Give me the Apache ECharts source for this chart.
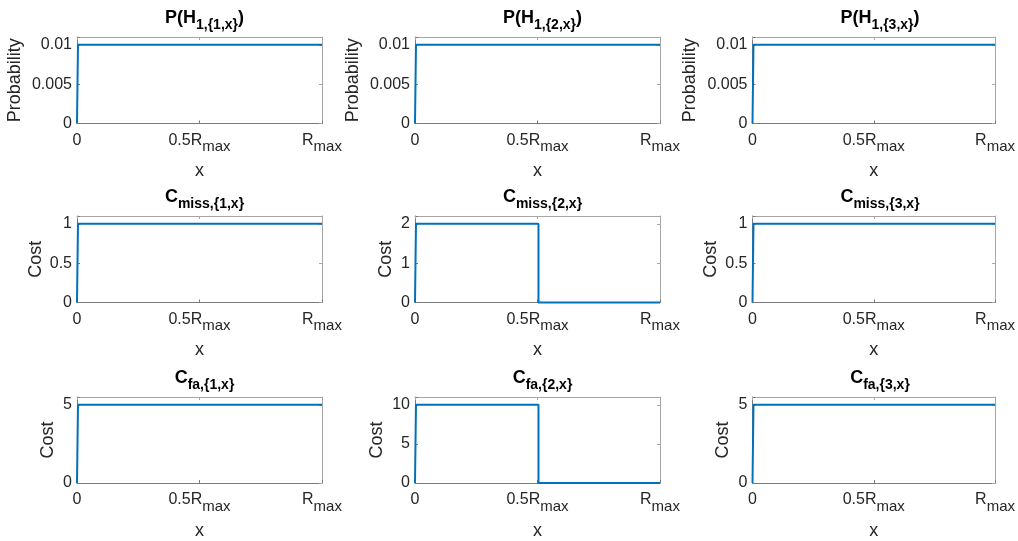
<!DOCTYPE html>
<html>
<head>
<meta charset="utf-8">
<script src="https://cdn.jsdelivr.net/npm/echarts@6/dist/echarts.min.js"></script>
<style>html,body{margin:0;padding:0;background:#fff}#c{width:1018px;height:541px}</style>
</head>
<body>
<div id="c"></div>
<script>
// ---- data ----
const xTicks = [0, 50, 100];
const xTickMain = ['0', '0.5R', 'R'];
const xTickSub = ['', 'max', 'max'];
const xRise = [0, 0.4, 100];
const xStep = [0, 0.4, 50.4, 50.4, 100];

const pH1_1 = [0, 0.01, 0.01];
const pH1_2 = [0, 0.01, 0.01, 0.01, 0.01];
const pH1_3 = [0, 0.01, 0.01];
const cMiss1 = [0, 1, 1];
const cMiss2 = [0, 2, 2, 0, 0];
const cMiss3 = [0, 1, 1];
const cFa1 = [0, 5, 5];
const cFa2 = [0, 10, 10, 0, 0];
const cFa3 = [0, 5, 5];

const titleMain = ['P(H', 'P(H', 'P(H', 'C', 'C', 'C', 'C', 'C', 'C'];
const titleSub = ['1,{1,x}', '1,{2,x}', '1,{3,x}', 'miss,{1,x}', 'miss,{2,x}', 'miss,{3,x}', 'fa,{1,x}', 'fa,{2,x}', 'fa,{3,x}'];
const titleTail = [')', ')', ')', '', '', '', '', '', ''];
const yNames = ['Probability', 'Probability', 'Probability', 'Cost', 'Cost', 'Cost', 'Cost', 'Cost', 'Cost'];
const yMax = [0.011, 0.011, 0.011, 1.1, 2.2, 1.1, 5.5, 11, 5.5];
const yInterval = [0.005, 0.005, 0.005, 0.5, 1, 0.5, 5, 5, 5];
const yTicks = [[0, 0.005, 0.01], [0, 0.005, 0.01], [0, 0.005, 0.01], [0, 0.5, 1], [0, 1, 2], [0, 0.5, 1], [0, 5], [0, 5, 10], [0, 5]];
const yTickLabels = [['0', '0.005', '0.01'], ['0', '0.005', '0.01'], ['0', '0.005', '0.01'], ['0', '0.5', '1'], ['0', '1', '2'], ['0', '0.5', '1'], ['0', '5'], ['0', '5', '10'], ['0', '5']];
const seriesX = [xRise, xStep, xRise, xRise, xStep, xRise, xRise, xStep, xRise];
const seriesY = [pH1_1, pH1_2, pH1_3, cMiss1, cMiss2, cMiss3, cFa1, cFa2, cFa3];

// ---- layout / style ----
const colLeft = [77, 415, 752.5];
const rowTop = [37, 216, 397];
const plotW = 245, plotH = 86.5;
const yNameGap = [53, 53, 53, 32, 20, 32, 20, 29, 20];
const FONT = 'Liberation Sans, Arial, sans-serif';
const TXT = '#262626';
const AX = '#7a7a7a';
const AX2 = '#a6a6a6';
const LINE = '#0072BD';

const grids = [], xAxes = [], yAxes = [], series = [], titles = [];
for (let i = 0; i < 9; i++) {
  const r = Math.floor(i / 3), c = i % 3;
  grids.push({left: colLeft[c], top: rowTop[r], width: plotW, height: plotH, show: false, containLabel: false});
  const xBase = {gridIndex: i, type: 'value', min: 0, max: 100, interval: 50, splitLine: {show: false}};
  xAxes.push(Object.assign({}, xBase, {
    position: 'bottom',
    axisLine: {show: true, onZero: false, lineStyle: {color: AX, width: 1}},
    axisTick: {show: true, inside: true, length: 3, lineStyle: {color: AX}},
    axisLabel: {
      show: true, margin: 9, color: TXT, fontFamily: FONT, fontSize: 15,
      showMinLabel: true, showMaxLabel: true,
      formatter: function (v) {
        const k = xTicks.indexOf(v);
        if (k < 0) return '';
        return '{b|' + xTickMain[k] + '}' + xTickSub[k];
      },
      rich: {b: {fontSize: 16, fontFamily: FONT, color: TXT, padding: [0, 0, 13, 0]}}
    },
    name: 'x', nameLocation: 'middle', nameGap: 39,
    nameTextStyle: {color: TXT, fontFamily: FONT, fontSize: 18}
  }));
  xAxes.push(Object.assign({}, xBase, {
    position: 'top',
    axisLine: {show: true, onZero: false, lineStyle: {color: AX2, width: 1}},
    axisTick: {show: true, inside: true, length: 3, lineStyle: {color: AX2}},
    axisLabel: {show: false}
  }));
  const tk = yTicks[i], tl = yTickLabels[i];
  const yBase = {gridIndex: i, type: 'value', min: 0, max: yMax[i], interval: yInterval[i], splitLine: {show: false}};
  yAxes.push(Object.assign({}, yBase, {
    position: 'left',
    axisLine: {show: true, onZero: false, lineStyle: {color: AX, width: 1}},
    axisTick: {show: true, inside: true, length: 3, lineStyle: {color: AX}},
    axisLabel: {
      show: true, margin: 5, color: TXT, fontFamily: FONT, fontSize: 16,
      formatter: function (v) {
        for (let k = 0; k < tk.length; k++) if (Math.abs(v - tk[k]) < 1e-9) return tl[k];
        return '';
      }
    },
    name: yNames[i], nameLocation: 'middle', nameGap: yNameGap[i], nameRotate: 90,
    nameTextStyle: {color: TXT, fontFamily: FONT, fontSize: 18}
  }));
  yAxes.push(Object.assign({}, yBase, {
    position: 'right',
    axisLine: {show: true, onZero: false, lineStyle: {color: AX2, width: 1}},
    axisTick: {show: true, inside: true, length: 3, lineStyle: {color: AX2}},
    axisLabel: {show: false}
  }));
  const xs = seriesX[i], ys = seriesY[i];
  series.push({
    type: 'line', xAxisIndex: 2 * i, yAxisIndex: 2 * i, symbol: 'none', animation: false,
    lineStyle: {color: LINE, width: 2}, itemStyle: {color: LINE},
    data: xs.map((x, k) => [x, ys[k]]), clip: false
  });
  titles.push({
    left: colLeft[c] + plotW / 2, top: rowTop[r] - 33, textAlign: 'center',
    text: '{b|' + titleMain[i] + '}' + titleSub[i] + (titleTail[i] ? '{b|' + titleTail[i] + '}' : ''),
    textStyle: {
      color: '#000', fontFamily: FONT, fontSize: 14, fontWeight: 'bold',
      rich: {b: {fontSize: 18, fontWeight: 'bold', fontFamily: FONT, color: '#000', padding: [0, 0, 15, 0]}}
    }
  });
}

const chart = echarts.init(document.getElementById('c'), null, {renderer: 'canvas'});
chart.setOption({
  animation: false,
  backgroundColor: '#fff',
  title: titles,
  grid: grids,
  xAxis: xAxes,
  yAxis: yAxes,
  series: series
});
</script>
</body>
</html>
